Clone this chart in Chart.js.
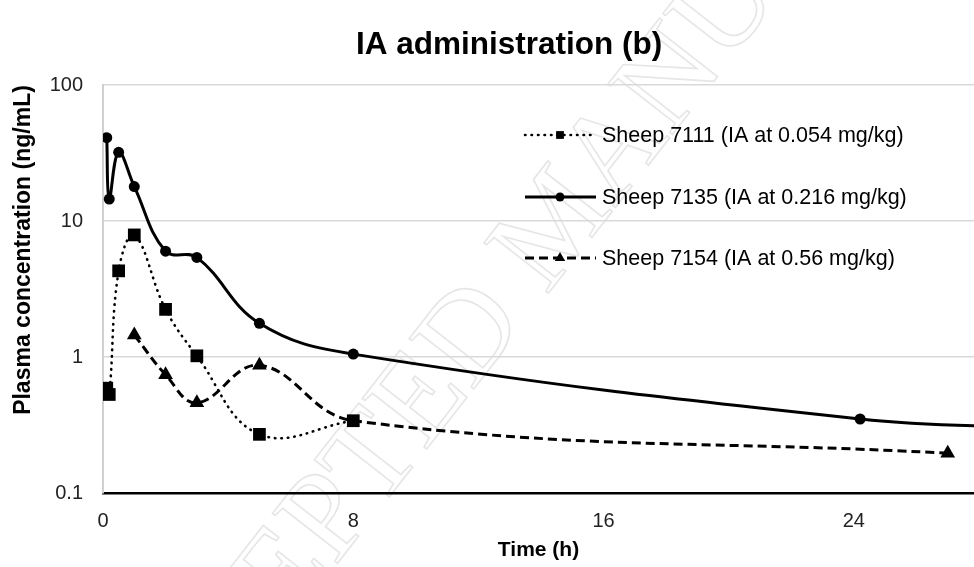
<!DOCTYPE html>
<html>
<head>
<meta charset="utf-8">
<script src="https://cdn.jsdelivr.net/npm/chart.js@4/dist/chart.umd.min.js"></script>
<style>
  html, body { margin: 0; padding: 0; background: #fff; overflow: hidden; }
  canvas { display: block; }
</style>
</head>
<body>
<canvas id="pk-chart" width="974" height="567" style="width:974px;height:567px"></canvas>
<script>
const titleText = "IA administration (b)";
const xTitle = "Time (h)";
const yTitle = "Plasma concentration (ng/mL)";
const watermark = "ACCEPTED MANUSCRIPT";

const xTicks = [0, 8, 16, 24];
const yTicks = [0.1, 1, 10, 100];

const seriesNames = [
  "Sheep 7111 (IA at 0.054 mg/kg)",
  "Sheep 7135 (IA at 0.216 mg/kg)",
  "Sheep 7154 (IA at 0.56 mg/kg)"
];

// sheep 7111, squares, dotted
const time7111 = [0.12, 0.2, 0.5, 1, 2, 3, 5, 8];
const conc7111 = [0.59, 0.53, 4.3, 7.9, 2.24, 1.02, 0.27, 0.34];

// sheep 7135, circles, solid (last point is past the right edge)
const time7135 = [0.12, 0.2, 0.5, 1, 2, 3, 5, 8, 24.2, 30];
const conc7135 = [41, 14.5, 32, 17.9, 6.0, 5.4, 1.77, 1.05, 0.35, 0.30];

// sheep 7154, triangles, dashed (8 h point sits under the square)
const time7154 = [1, 2, 3, 5, 8, 27];
const conc7154 = [1.45, 0.74, 0.46, 0.87, 0.34, 0.196];

const FONT = "'Liberation Sans', Arial, sans-serif";

function toPoints(xs, ys) {
  return xs.map((x, i) => ({ x: x, y: ys[i] }));
}

const lineStyles = [
  { dash: [0.5, 6], width: 2.6, cap: "round", marker: "rect", r: 9, legendR: 5.5 },
  { dash: [], width: 3, cap: "butt", marker: "circle", r: 5.5, legendR: 4.5 },
  { dash: [9, 5], width: 3, cap: "butt", marker: "triangle", r: 8.5, legendR: 6 }
];

function drawMarker(ctx, style, x, y, r) {
  ctx.beginPath();
  if (style === "rect") {
    const s = r * Math.SQRT1_2;
    ctx.rect(x - s, y - s, 2 * s, 2 * s);
  } else if (style === "circle") {
    ctx.arc(x, y, r, 0, Math.PI * 2);
  } else {
    ctx.moveTo(x, y - r);
    ctx.lineTo(x + r * 0.866, y + r * 0.5);
    ctx.lineTo(x - r * 0.866, y + r * 0.5);
    ctx.closePath();
  }
  ctx.fillStyle = "#000";
  ctx.fill();
}

const watermarkPlugin = {
  id: "watermark",
  beforeDraw(chart) {
    const ctx = chart.ctx;
    ctx.save();
    ctx.translate(560, 225);
    ctx.rotate(-52 * Math.PI / 180);
    ctx.font = "125px 'Liberation Serif', 'DejaVu Serif', serif";
    ctx.textAlign = "center";
    ctx.textBaseline = "middle";
    ctx.strokeStyle = "#e6e6e6";
    ctx.lineWidth = 1.6;
    ctx.strokeText(watermark, 0, 0);
    ctx.restore();
  }
};

// title, y-axis title and the legend inside the plot
const textPlugin = {
  id: "texts",
  afterDraw(chart) {
    const ctx = chart.ctx;
    ctx.save();
    ctx.fillStyle = "#000";
    ctx.textAlign = "center";
    ctx.textBaseline = "middle";
    ctx.font = "bold 31.5px " + FONT;
    ctx.fillText(titleText, 509, 45);

    ctx.save();
    ctx.translate(24, 250);
    ctx.rotate(-Math.PI / 2);
    ctx.font = "bold 23px " + FONT;
    ctx.fillText(yTitle, 0, 0);
    ctx.restore();

    const rows = [135, 197, 258];
    seriesNames.forEach((name, i) => {
      const st = lineStyles[i];
      const y = rows[i];
      ctx.beginPath();
      ctx.setLineDash(st.dash);
      ctx.lineCap = st.cap;
      ctx.lineWidth = st.width;
      ctx.strokeStyle = "#000";
      ctx.moveTo(525, y);
      ctx.lineTo(596, y);
      ctx.stroke();
      ctx.setLineDash([]);
      drawMarker(ctx, st.marker, 560, y, st.legendR);
      ctx.font = "21.5px " + FONT;
      ctx.fillStyle = "#000";
      ctx.textAlign = "left";
      ctx.textBaseline = "middle";
      ctx.fillText(name, 602, y + 1);
    });
    ctx.restore();
  }
};

const datasets = [
  toPoints(time7111, conc7111),
  toPoints(time7135, conc7135),
  toPoints(time7154, conc7154)
].map((pts, i) => {
  const st = lineStyles[i];
  return {
    label: seriesNames[i],
    data: pts,
    borderColor: "#000",
    backgroundColor: "#000",
    borderWidth: st.width,
    borderDash: st.dash,
    borderCapStyle: st.cap,
    tension: 0.4,
    pointStyle: st.marker,
    pointRadius: i === 2 ? pts.map((p) => (p.x === 8 ? 0 : st.r)) : st.r,
    pointBorderWidth: 0,
    pointBackgroundColor: "#000",
    pointBorderColor: "#000"
  };
});

new Chart(document.getElementById("pk-chart").getContext("2d"), {
  type: "line",
  data: { datasets: datasets },
  plugins: [watermarkPlugin, textPlugin],
  options: {
    responsive: false,
    animation: false,
    devicePixelRatio: 1,
    layout: { autoPadding: false, padding: { left: 0, right: 0, top: 85, bottom: 0 } },
    plugins: {
      legend: { display: false },
      tooltip: { enabled: false },
      title: { display: false }
    },
    scales: {
      x: {
        type: "linear",
        min: 0,
        max: 27.84,
        afterBuildTicks: (scale) => { scale.ticks = xTicks.map((v) => ({ value: v })); },
        afterFit: (scale) => { scale.height = 74; },
        grid: { display: false, drawTicks: false },
        border: { display: true, color: "#000", width: 2.5 },
        ticks: {
          color: "#222",
          padding: 16,
          maxRotation: 0,
          font: { family: FONT, size: 20 },
          callback: (v) => String(v)
        },
        title: {
          display: true,
          text: xTitle,
          color: "#000",
          font: { family: FONT, size: 21, weight: "bold" },
          padding: { top: 0, bottom: 4 }
        }
      },
      y: {
        type: "logarithmic",
        min: 0.1,
        max: 100,
        afterBuildTicks: (scale) => { scale.ticks = yTicks.map((v) => ({ value: v })); },
        afterFit: (scale) => { scale.width = 103; },
        grid: { color: "#d9d9d9", lineWidth: 1.5, drawTicks: false },
        border: { display: true, color: "#d0d0d0", width: 2 },
        ticks: {
          color: "#222",
          padding: 20,
          font: { family: FONT, size: 20 },
          callback: (v) => String(v)
        }
      }
    }
  }
});
</script>
</body>
</html>
